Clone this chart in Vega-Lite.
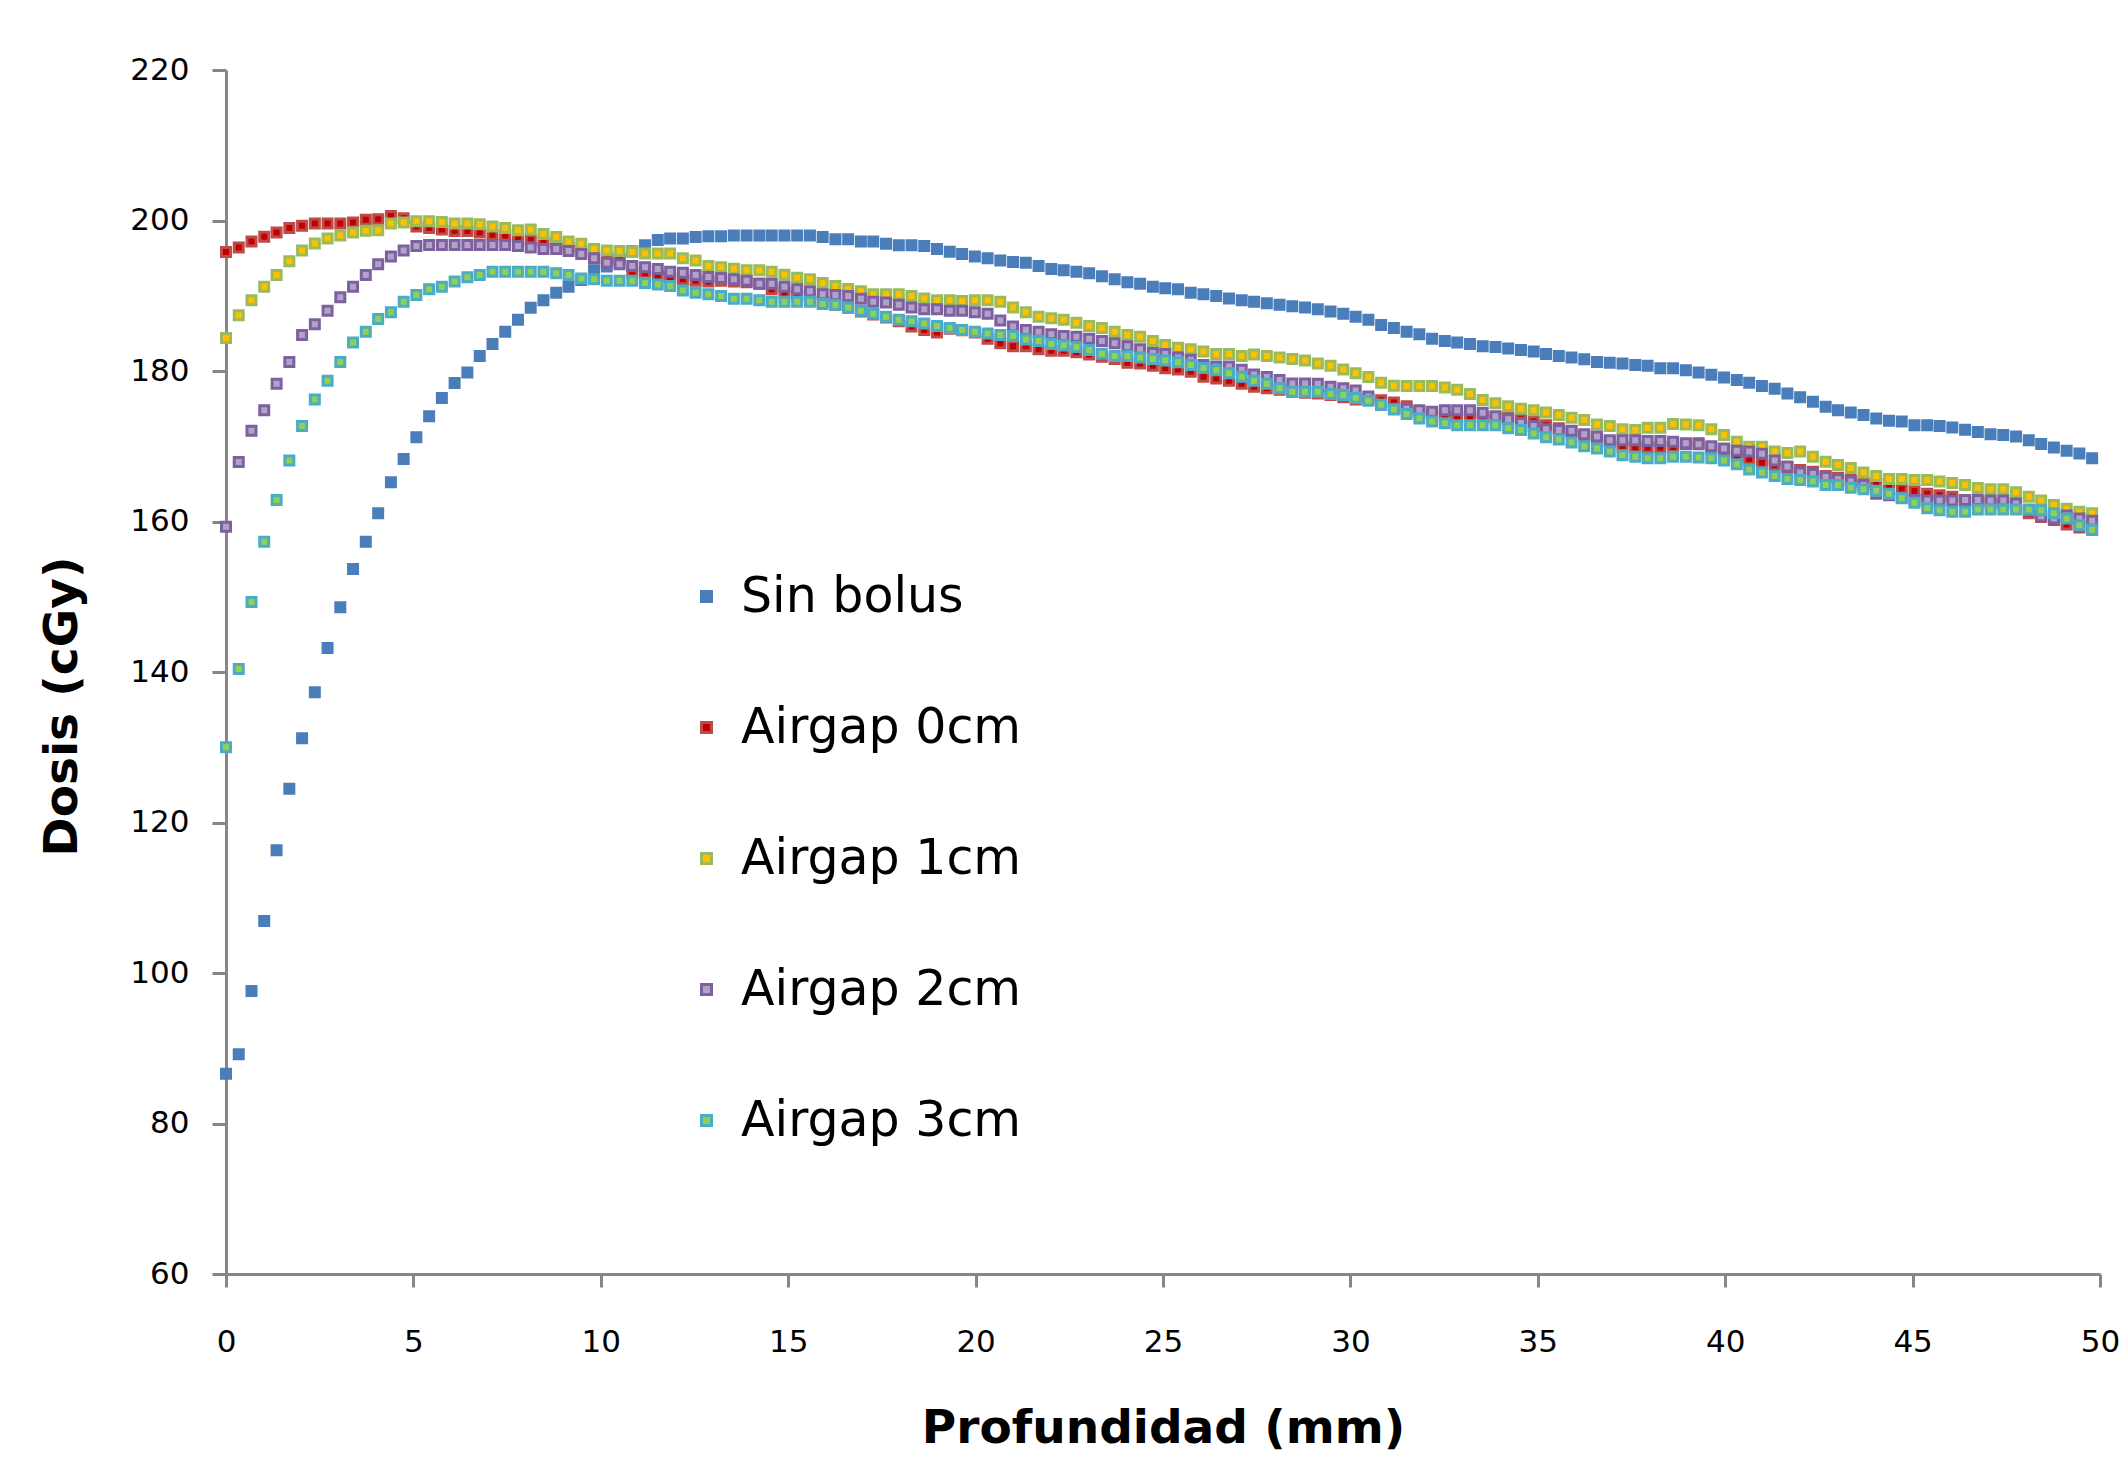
{
"$schema":"https://vega.github.io/schema/vega-lite/v6.json",
"width":1874,"height":1204,
"autosize":{"type":"none"},
"padding":{"left":226,"top":70,"right":20,"bottom":183},
"background":"white",
"config":{"view":{"stroke":null},"font":"DejaVu Sans"},
"data":{"values":[
{"s":"Sin bolus","x":0,"y":86.6},{"s":"Sin bolus","x":0.34,"y":89.2},{"s":"Sin bolus","x":0.68,"y":97.6},{"s":"Sin bolus","x":1.02,"y":106.9},{"s":"Sin bolus","x":1.35,"y":116.3},{"s":"Sin bolus","x":1.69,"y":124.5},{"s":"Sin bolus","x":2.03,"y":131.2},{"s":"Sin bolus","x":2.37,"y":137.3},{"s":"Sin bolus","x":2.71,"y":143.2},{"s":"Sin bolus","x":3.05,"y":148.6},
{"s":"Sin bolus","x":3.39,"y":153.7},{"s":"Sin bolus","x":3.73,"y":157.3},{"s":"Sin bolus","x":4.06,"y":161.1},{"s":"Sin bolus","x":4.4,"y":165.2},{"s":"Sin bolus","x":4.74,"y":168.3},{"s":"Sin bolus","x":5.08,"y":171.2},{"s":"Sin bolus","x":5.42,"y":174.0},{"s":"Sin bolus","x":5.76,"y":176.4},{"s":"Sin bolus","x":6.1,"y":178.4},{"s":"Sin bolus","x":6.44,"y":179.8},
{"s":"Sin bolus","x":6.77,"y":182.0},{"s":"Sin bolus","x":7.11,"y":183.6},{"s":"Sin bolus","x":7.45,"y":185.2},{"s":"Sin bolus","x":7.79,"y":186.8},{"s":"Sin bolus","x":8.13,"y":188.4},{"s":"Sin bolus","x":8.47,"y":189.4},{"s":"Sin bolus","x":8.81,"y":190.4},{"s":"Sin bolus","x":9.14,"y":191.2},{"s":"Sin bolus","x":9.48,"y":192.1},{"s":"Sin bolus","x":9.82,"y":193.4},
{"s":"Sin bolus","x":10.16,"y":193.9},{"s":"Sin bolus","x":10.5,"y":195.0},{"s":"Sin bolus","x":10.84,"y":195.9},{"s":"Sin bolus","x":11.18,"y":196.7},{"s":"Sin bolus","x":11.52,"y":197.4},{"s":"Sin bolus","x":11.85,"y":197.6},{"s":"Sin bolus","x":12.19,"y":197.6},{"s":"Sin bolus","x":12.53,"y":197.8},{"s":"Sin bolus","x":12.87,"y":197.9},{"s":"Sin bolus","x":13.21,"y":197.9},
{"s":"Sin bolus","x":13.55,"y":198.0},{"s":"Sin bolus","x":13.89,"y":198.0},{"s":"Sin bolus","x":14.23,"y":198.0},{"s":"Sin bolus","x":14.56,"y":198.0},{"s":"Sin bolus","x":14.9,"y":198.0},{"s":"Sin bolus","x":15.24,"y":198.0},{"s":"Sin bolus","x":15.58,"y":198.0},{"s":"Sin bolus","x":15.92,"y":197.8},{"s":"Sin bolus","x":16.26,"y":197.5},{"s":"Sin bolus","x":16.6,"y":197.5},
{"s":"Sin bolus","x":16.94,"y":197.2},{"s":"Sin bolus","x":17.27,"y":197.2},{"s":"Sin bolus","x":17.61,"y":196.9},{"s":"Sin bolus","x":17.95,"y":196.7},{"s":"Sin bolus","x":18.29,"y":196.7},{"s":"Sin bolus","x":18.63,"y":196.6},{"s":"Sin bolus","x":18.97,"y":196.2},{"s":"Sin bolus","x":19.31,"y":195.85},{"s":"Sin bolus","x":19.64,"y":195.55},{"s":"Sin bolus","x":19.98,"y":195.2},
{"s":"Sin bolus","x":20.32,"y":195.0},{"s":"Sin bolus","x":20.66,"y":194.7},{"s":"Sin bolus","x":21,"y":194.5},{"s":"Sin bolus","x":21.34,"y":194.4},{"s":"Sin bolus","x":21.68,"y":193.95},{"s":"Sin bolus","x":22.02,"y":193.55},{"s":"Sin bolus","x":22.35,"y":193.4},{"s":"Sin bolus","x":22.69,"y":193.2},{"s":"Sin bolus","x":23.03,"y":193.0},{"s":"Sin bolus","x":23.37,"y":192.6},
{"s":"Sin bolus","x":23.71,"y":192.2},{"s":"Sin bolus","x":24.05,"y":191.8},{"s":"Sin bolus","x":24.39,"y":191.6},{"s":"Sin bolus","x":24.73,"y":191.2},{"s":"Sin bolus","x":25.06,"y":191.0},{"s":"Sin bolus","x":25.4,"y":190.85},{"s":"Sin bolus","x":25.74,"y":190.4},{"s":"Sin bolus","x":26.08,"y":190.2},{"s":"Sin bolus","x":26.42,"y":189.96},{"s":"Sin bolus","x":26.76,"y":189.65},
{"s":"Sin bolus","x":27.1,"y":189.4},{"s":"Sin bolus","x":27.43,"y":189.2},{"s":"Sin bolus","x":27.77,"y":189.0},{"s":"Sin bolus","x":28.11,"y":188.8},{"s":"Sin bolus","x":28.45,"y":188.6},{"s":"Sin bolus","x":28.79,"y":188.45},{"s":"Sin bolus","x":29.13,"y":188.2},{"s":"Sin bolus","x":29.47,"y":187.9},{"s":"Sin bolus","x":29.81,"y":187.6},{"s":"Sin bolus","x":30.14,"y":187.2},
{"s":"Sin bolus","x":30.48,"y":186.8},{"s":"Sin bolus","x":30.82,"y":186.1},{"s":"Sin bolus","x":31.16,"y":185.7},{"s":"Sin bolus","x":31.5,"y":185.2},{"s":"Sin bolus","x":31.84,"y":184.9},{"s":"Sin bolus","x":32.18,"y":184.3},{"s":"Sin bolus","x":32.52,"y":184.0},{"s":"Sin bolus","x":32.85,"y":183.8},{"s":"Sin bolus","x":33.19,"y":183.6},{"s":"Sin bolus","x":33.53,"y":183.3},
{"s":"Sin bolus","x":33.87,"y":183.2},{"s":"Sin bolus","x":34.21,"y":183.0},{"s":"Sin bolus","x":34.55,"y":182.8},{"s":"Sin bolus","x":34.89,"y":182.6},{"s":"Sin bolus","x":35.22,"y":182.25},{"s":"Sin bolus","x":35.56,"y":182.0},{"s":"Sin bolus","x":35.9,"y":181.8},{"s":"Sin bolus","x":36.24,"y":181.55},{"s":"Sin bolus","x":36.58,"y":181.2},{"s":"Sin bolus","x":36.92,"y":181.1},
{"s":"Sin bolus","x":37.26,"y":181.0},{"s":"Sin bolus","x":37.6,"y":180.8},{"s":"Sin bolus","x":37.93,"y":180.7},{"s":"Sin bolus","x":38.27,"y":180.35},{"s":"Sin bolus","x":38.61,"y":180.35},{"s":"Sin bolus","x":38.95,"y":180.1},{"s":"Sin bolus","x":39.29,"y":179.8},{"s":"Sin bolus","x":39.63,"y":179.5},{"s":"Sin bolus","x":39.97,"y":179.15},{"s":"Sin bolus","x":40.31,"y":178.8},
{"s":"Sin bolus","x":40.64,"y":178.45},{"s":"Sin bolus","x":40.98,"y":178.0},{"s":"Sin bolus","x":41.32,"y":177.65},{"s":"Sin bolus","x":41.66,"y":177.0},{"s":"Sin bolus","x":42,"y":176.5},{"s":"Sin bolus","x":42.34,"y":175.9},{"s":"Sin bolus","x":42.68,"y":175.25},{"s":"Sin bolus","x":43.01,"y":174.8},{"s":"Sin bolus","x":43.35,"y":174.5},{"s":"Sin bolus","x":43.69,"y":174.15},
{"s":"Sin bolus","x":44.03,"y":173.7},{"s":"Sin bolus","x":44.37,"y":173.4},{"s":"Sin bolus","x":44.71,"y":173.3},{"s":"Sin bolus","x":45.05,"y":172.8},{"s":"Sin bolus","x":45.39,"y":172.8},{"s":"Sin bolus","x":45.72,"y":172.7},{"s":"Sin bolus","x":46.06,"y":172.5},{"s":"Sin bolus","x":46.4,"y":172.2},{"s":"Sin bolus","x":46.74,"y":171.9},{"s":"Sin bolus","x":47.08,"y":171.6},
{"s":"Sin bolus","x":47.42,"y":171.5},{"s":"Sin bolus","x":47.76,"y":171.3},{"s":"Sin bolus","x":48.1,"y":170.8},{"s":"Sin bolus","x":48.43,"y":170.3},{"s":"Sin bolus","x":48.77,"y":169.85},{"s":"Sin bolus","x":49.11,"y":169.4},{"s":"Sin bolus","x":49.45,"y":169.05},{"s":"Sin bolus","x":49.79,"y":168.4},
{"s":"Airgap 0cm","x":0,"y":195.8},{"s":"Airgap 0cm","x":0.34,"y":196.4},{"s":"Airgap 0cm","x":0.68,"y":197.2},{"s":"Airgap 0cm","x":1.02,"y":197.85},{"s":"Airgap 0cm","x":1.35,"y":198.4},{"s":"Airgap 0cm","x":1.69,"y":199.0},{"s":"Airgap 0cm","x":2.03,"y":199.3},{"s":"Airgap 0cm","x":2.37,"y":199.6},{"s":"Airgap 0cm","x":2.71,"y":199.6},{"s":"Airgap 0cm","x":3.05,"y":199.6},
{"s":"Airgap 0cm","x":3.39,"y":199.75},{"s":"Airgap 0cm","x":3.73,"y":200.1},{"s":"Airgap 0cm","x":4.06,"y":200.15},{"s":"Airgap 0cm","x":4.4,"y":200.6},{"s":"Airgap 0cm","x":4.74,"y":200.3},{"s":"Airgap 0cm","x":5.08,"y":199.2},{"s":"Airgap 0cm","x":5.42,"y":199.0},{"s":"Airgap 0cm","x":5.76,"y":198.8},{"s":"Airgap 0cm","x":6.1,"y":198.6},{"s":"Airgap 0cm","x":6.44,"y":198.6},
{"s":"Airgap 0cm","x":6.77,"y":198.4},{"s":"Airgap 0cm","x":7.11,"y":198.1},{"s":"Airgap 0cm","x":7.45,"y":198.0},{"s":"Airgap 0cm","x":7.79,"y":197.8},{"s":"Airgap 0cm","x":8.13,"y":197.4},{"s":"Airgap 0cm","x":8.47,"y":197.1},{"s":"Airgap 0cm","x":8.81,"y":196.9},{"s":"Airgap 0cm","x":9.14,"y":196.4},{"s":"Airgap 0cm","x":9.48,"y":195.9},{"s":"Airgap 0cm","x":9.82,"y":195.4},
{"s":"Airgap 0cm","x":10.16,"y":195.0},{"s":"Airgap 0cm","x":10.5,"y":194.7},{"s":"Airgap 0cm","x":10.84,"y":193.1},{"s":"Airgap 0cm","x":11.18,"y":193.0},{"s":"Airgap 0cm","x":11.52,"y":192.6},{"s":"Airgap 0cm","x":11.85,"y":192.4},{"s":"Airgap 0cm","x":12.19,"y":192.2},{"s":"Airgap 0cm","x":12.53,"y":192.0},{"s":"Airgap 0cm","x":12.87,"y":191.9},{"s":"Airgap 0cm","x":13.21,"y":192.0},
{"s":"Airgap 0cm","x":13.55,"y":191.9},{"s":"Airgap 0cm","x":13.89,"y":191.8},{"s":"Airgap 0cm","x":14.23,"y":191.6},{"s":"Airgap 0cm","x":14.56,"y":190.85},{"s":"Airgap 0cm","x":14.9,"y":190.4},{"s":"Airgap 0cm","x":15.24,"y":190.0},{"s":"Airgap 0cm","x":15.58,"y":189.6},{"s":"Airgap 0cm","x":15.92,"y":189.2},{"s":"Airgap 0cm","x":16.26,"y":188.8},{"s":"Airgap 0cm","x":16.6,"y":188.4},
{"s":"Airgap 0cm","x":16.94,"y":187.9},{"s":"Airgap 0cm","x":17.27,"y":187.5},{"s":"Airgap 0cm","x":17.61,"y":187.1},{"s":"Airgap 0cm","x":17.95,"y":186.6},{"s":"Airgap 0cm","x":18.29,"y":185.9},{"s":"Airgap 0cm","x":18.63,"y":185.45},{"s":"Airgap 0cm","x":18.97,"y":185.1},{"s":"Airgap 0cm","x":19.31,"y":185.6},{"s":"Airgap 0cm","x":19.64,"y":185.4},{"s":"Airgap 0cm","x":19.98,"y":185.1},
{"s":"Airgap 0cm","x":20.32,"y":184.3},{"s":"Airgap 0cm","x":20.66,"y":183.7},{"s":"Airgap 0cm","x":21,"y":183.3},{"s":"Airgap 0cm","x":21.34,"y":183.3},{"s":"Airgap 0cm","x":21.68,"y":182.9},{"s":"Airgap 0cm","x":22.02,"y":182.7},{"s":"Airgap 0cm","x":22.35,"y":182.7},{"s":"Airgap 0cm","x":22.69,"y":182.5},{"s":"Airgap 0cm","x":23.03,"y":182.2},{"s":"Airgap 0cm","x":23.37,"y":181.9},
{"s":"Airgap 0cm","x":23.71,"y":181.6},{"s":"Airgap 0cm","x":24.05,"y":181.1},{"s":"Airgap 0cm","x":24.39,"y":181.0},{"s":"Airgap 0cm","x":24.73,"y":180.7},{"s":"Airgap 0cm","x":25.06,"y":180.35},{"s":"Airgap 0cm","x":25.4,"y":180.2},{"s":"Airgap 0cm","x":25.74,"y":179.9},{"s":"Airgap 0cm","x":26.08,"y":179.25},{"s":"Airgap 0cm","x":26.42,"y":179.0},{"s":"Airgap 0cm","x":26.76,"y":178.7},
{"s":"Airgap 0cm","x":27.1,"y":178.3},{"s":"Airgap 0cm","x":27.43,"y":177.9},{"s":"Airgap 0cm","x":27.77,"y":177.7},{"s":"Airgap 0cm","x":28.11,"y":177.5},{"s":"Airgap 0cm","x":28.45,"y":177.25},{"s":"Airgap 0cm","x":28.79,"y":177.1},{"s":"Airgap 0cm","x":29.13,"y":177.0},{"s":"Airgap 0cm","x":29.47,"y":176.8},{"s":"Airgap 0cm","x":29.81,"y":176.5},{"s":"Airgap 0cm","x":30.14,"y":176.2},
{"s":"Airgap 0cm","x":30.48,"y":176.2},{"s":"Airgap 0cm","x":30.82,"y":176.1},{"s":"Airgap 0cm","x":31.16,"y":175.8},{"s":"Airgap 0cm","x":31.5,"y":175.3},{"s":"Airgap 0cm","x":31.84,"y":174.6},{"s":"Airgap 0cm","x":32.18,"y":174.15},{"s":"Airgap 0cm","x":32.52,"y":173.85},{"s":"Airgap 0cm","x":32.85,"y":173.85},{"s":"Airgap 0cm","x":33.19,"y":173.85},{"s":"Airgap 0cm","x":33.53,"y":173.85},
{"s":"Airgap 0cm","x":33.87,"y":173.85},{"s":"Airgap 0cm","x":34.21,"y":173.95},{"s":"Airgap 0cm","x":34.55,"y":173.6},{"s":"Airgap 0cm","x":34.89,"y":173.3},{"s":"Airgap 0cm","x":35.22,"y":172.8},{"s":"Airgap 0cm","x":35.56,"y":172.4},{"s":"Airgap 0cm","x":35.9,"y":171.9},{"s":"Airgap 0cm","x":36.24,"y":171.4},{"s":"Airgap 0cm","x":36.58,"y":171.0},{"s":"Airgap 0cm","x":36.92,"y":170.6},
{"s":"Airgap 0cm","x":37.26,"y":169.95},{"s":"Airgap 0cm","x":37.6,"y":169.85},{"s":"Airgap 0cm","x":37.93,"y":169.85},{"s":"Airgap 0cm","x":38.27,"y":169.85},{"s":"Airgap 0cm","x":38.61,"y":169.9},{"s":"Airgap 0cm","x":38.95,"y":170.3},{"s":"Airgap 0cm","x":39.29,"y":170.4},{"s":"Airgap 0cm","x":39.63,"y":169.7},{"s":"Airgap 0cm","x":39.97,"y":169.05},{"s":"Airgap 0cm","x":40.31,"y":168.7},
{"s":"Airgap 0cm","x":40.64,"y":168.3},{"s":"Airgap 0cm","x":40.98,"y":167.8},{"s":"Airgap 0cm","x":41.32,"y":167.5},{"s":"Airgap 0cm","x":41.66,"y":167.2},{"s":"Airgap 0cm","x":42,"y":166.85},{"s":"Airgap 0cm","x":42.34,"y":166.6},{"s":"Airgap 0cm","x":42.68,"y":166.05},{"s":"Airgap 0cm","x":43.01,"y":165.8},{"s":"Airgap 0cm","x":43.35,"y":165.5},{"s":"Airgap 0cm","x":43.69,"y":165.2},
{"s":"Airgap 0cm","x":44.03,"y":165.0},{"s":"Airgap 0cm","x":44.37,"y":164.6},{"s":"Airgap 0cm","x":44.71,"y":164.3},{"s":"Airgap 0cm","x":45.05,"y":164.05},{"s":"Airgap 0cm","x":45.39,"y":163.7},{"s":"Airgap 0cm","x":45.72,"y":163.5},{"s":"Airgap 0cm","x":46.06,"y":163.3},{"s":"Airgap 0cm","x":46.4,"y":162.85},{"s":"Airgap 0cm","x":46.74,"y":162.6},{"s":"Airgap 0cm","x":47.08,"y":162.5},
{"s":"Airgap 0cm","x":47.42,"y":162.4},{"s":"Airgap 0cm","x":47.76,"y":162.2},{"s":"Airgap 0cm","x":48.1,"y":161.1},{"s":"Airgap 0cm","x":48.43,"y":160.6},{"s":"Airgap 0cm","x":48.77,"y":160.2},{"s":"Airgap 0cm","x":49.11,"y":159.6},{"s":"Airgap 0cm","x":49.45,"y":159.2},{"s":"Airgap 0cm","x":49.79,"y":158.9},
{"s":"Airgap 1cm","x":0,"y":184.4},{"s":"Airgap 1cm","x":0.34,"y":187.4},{"s":"Airgap 1cm","x":0.68,"y":189.4},{"s":"Airgap 1cm","x":1.02,"y":191.2},{"s":"Airgap 1cm","x":1.35,"y":192.75},{"s":"Airgap 1cm","x":1.69,"y":194.6},{"s":"Airgap 1cm","x":2.03,"y":196.0},{"s":"Airgap 1cm","x":2.37,"y":196.96},{"s":"Airgap 1cm","x":2.71,"y":197.6},{"s":"Airgap 1cm","x":3.05,"y":198.0},
{"s":"Airgap 1cm","x":3.39,"y":198.4},{"s":"Airgap 1cm","x":3.73,"y":198.65},{"s":"Airgap 1cm","x":4.06,"y":198.7},{"s":"Airgap 1cm","x":4.4,"y":199.6},{"s":"Airgap 1cm","x":4.74,"y":199.75},{"s":"Airgap 1cm","x":5.08,"y":199.9},{"s":"Airgap 1cm","x":5.42,"y":199.9},{"s":"Airgap 1cm","x":5.76,"y":199.8},{"s":"Airgap 1cm","x":6.1,"y":199.6},{"s":"Airgap 1cm","x":6.44,"y":199.6},
{"s":"Airgap 1cm","x":6.77,"y":199.5},{"s":"Airgap 1cm","x":7.11,"y":199.2},{"s":"Airgap 1cm","x":7.45,"y":199.0},{"s":"Airgap 1cm","x":7.79,"y":198.7},{"s":"Airgap 1cm","x":8.13,"y":198.8},{"s":"Airgap 1cm","x":8.47,"y":198.2},{"s":"Airgap 1cm","x":8.81,"y":197.8},{"s":"Airgap 1cm","x":9.14,"y":197.2},{"s":"Airgap 1cm","x":9.48,"y":196.9},{"s":"Airgap 1cm","x":9.82,"y":196.2},
{"s":"Airgap 1cm","x":10.16,"y":196.0},{"s":"Airgap 1cm","x":10.5,"y":195.95},{"s":"Airgap 1cm","x":10.84,"y":195.8},{"s":"Airgap 1cm","x":11.18,"y":195.6},{"s":"Airgap 1cm","x":11.52,"y":195.6},{"s":"Airgap 1cm","x":11.85,"y":195.6},{"s":"Airgap 1cm","x":12.19,"y":195.0},{"s":"Airgap 1cm","x":12.53,"y":194.7},{"s":"Airgap 1cm","x":12.87,"y":193.95},{"s":"Airgap 1cm","x":13.21,"y":193.8},
{"s":"Airgap 1cm","x":13.55,"y":193.6},{"s":"Airgap 1cm","x":13.89,"y":193.4},{"s":"Airgap 1cm","x":14.23,"y":193.4},{"s":"Airgap 1cm","x":14.56,"y":193.2},{"s":"Airgap 1cm","x":14.9,"y":192.8},{"s":"Airgap 1cm","x":15.24,"y":192.4},{"s":"Airgap 1cm","x":15.58,"y":192.2},{"s":"Airgap 1cm","x":15.92,"y":191.7},{"s":"Airgap 1cm","x":16.26,"y":191.3},{"s":"Airgap 1cm","x":16.6,"y":190.9},
{"s":"Airgap 1cm","x":16.94,"y":190.6},{"s":"Airgap 1cm","x":17.27,"y":190.2},{"s":"Airgap 1cm","x":17.61,"y":190.2},{"s":"Airgap 1cm","x":17.95,"y":190.2},{"s":"Airgap 1cm","x":18.29,"y":189.96},{"s":"Airgap 1cm","x":18.63,"y":189.65},{"s":"Airgap 1cm","x":18.97,"y":189.4},{"s":"Airgap 1cm","x":19.31,"y":189.4},{"s":"Airgap 1cm","x":19.64,"y":189.3},{"s":"Airgap 1cm","x":19.98,"y":189.4},
{"s":"Airgap 1cm","x":20.32,"y":189.4},{"s":"Airgap 1cm","x":20.66,"y":189.2},{"s":"Airgap 1cm","x":21,"y":188.45},{"s":"Airgap 1cm","x":21.34,"y":187.8},{"s":"Airgap 1cm","x":21.68,"y":187.2},{"s":"Airgap 1cm","x":22.02,"y":187.0},{"s":"Airgap 1cm","x":22.35,"y":186.8},{"s":"Airgap 1cm","x":22.69,"y":186.4},{"s":"Airgap 1cm","x":23.03,"y":185.98},{"s":"Airgap 1cm","x":23.37,"y":185.7},
{"s":"Airgap 1cm","x":23.71,"y":185.2},{"s":"Airgap 1cm","x":24.05,"y":184.8},{"s":"Airgap 1cm","x":24.39,"y":184.56},{"s":"Airgap 1cm","x":24.73,"y":184.0},{"s":"Airgap 1cm","x":25.06,"y":183.45},{"s":"Airgap 1cm","x":25.4,"y":183.1},{"s":"Airgap 1cm","x":25.74,"y":182.9},{"s":"Airgap 1cm","x":26.08,"y":182.6},{"s":"Airgap 1cm","x":26.42,"y":182.25},{"s":"Airgap 1cm","x":26.76,"y":182.25},
{"s":"Airgap 1cm","x":27.1,"y":182.0},{"s":"Airgap 1cm","x":27.43,"y":182.2},{"s":"Airgap 1cm","x":27.77,"y":182.0},{"s":"Airgap 1cm","x":28.11,"y":181.8},{"s":"Airgap 1cm","x":28.45,"y":181.6},{"s":"Airgap 1cm","x":28.79,"y":181.4},{"s":"Airgap 1cm","x":29.13,"y":181.0},{"s":"Airgap 1cm","x":29.47,"y":180.7},{"s":"Airgap 1cm","x":29.81,"y":180.2},{"s":"Airgap 1cm","x":30.14,"y":179.7},
{"s":"Airgap 1cm","x":30.48,"y":179.2},{"s":"Airgap 1cm","x":30.82,"y":178.45},{"s":"Airgap 1cm","x":31.16,"y":178.05},{"s":"Airgap 1cm","x":31.5,"y":178.0},{"s":"Airgap 1cm","x":31.84,"y":178.0},{"s":"Airgap 1cm","x":32.18,"y":178.0},{"s":"Airgap 1cm","x":32.52,"y":177.8},{"s":"Airgap 1cm","x":32.85,"y":177.5},{"s":"Airgap 1cm","x":33.19,"y":176.95},{"s":"Airgap 1cm","x":33.53,"y":176.15},
{"s":"Airgap 1cm","x":33.87,"y":175.7},{"s":"Airgap 1cm","x":34.21,"y":175.3},{"s":"Airgap 1cm","x":34.55,"y":175.0},{"s":"Airgap 1cm","x":34.89,"y":174.8},{"s":"Airgap 1cm","x":35.22,"y":174.5},{"s":"Airgap 1cm","x":35.56,"y":174.15},{"s":"Airgap 1cm","x":35.9,"y":173.8},{"s":"Airgap 1cm","x":36.24,"y":173.5},{"s":"Airgap 1cm","x":36.58,"y":172.9},{"s":"Airgap 1cm","x":36.92,"y":172.7},
{"s":"Airgap 1cm","x":37.26,"y":172.25},{"s":"Airgap 1cm","x":37.6,"y":172.15},{"s":"Airgap 1cm","x":37.93,"y":172.45},{"s":"Airgap 1cm","x":38.27,"y":172.45},{"s":"Airgap 1cm","x":38.61,"y":172.95},{"s":"Airgap 1cm","x":38.95,"y":172.9},{"s":"Airgap 1cm","x":39.29,"y":172.8},{"s":"Airgap 1cm","x":39.63,"y":172.25},{"s":"Airgap 1cm","x":39.97,"y":171.5},{"s":"Airgap 1cm","x":40.31,"y":170.6},
{"s":"Airgap 1cm","x":40.64,"y":169.95},{"s":"Airgap 1cm","x":40.98,"y":169.94},{"s":"Airgap 1cm","x":41.32,"y":169.3},{"s":"Airgap 1cm","x":41.66,"y":169.1},{"s":"Airgap 1cm","x":42,"y":169.3},{"s":"Airgap 1cm","x":42.34,"y":168.6},{"s":"Airgap 1cm","x":42.68,"y":167.95},{"s":"Airgap 1cm","x":43.01,"y":167.5},{"s":"Airgap 1cm","x":43.35,"y":167.1},{"s":"Airgap 1cm","x":43.69,"y":166.5},
{"s":"Airgap 1cm","x":44.03,"y":166.05},{"s":"Airgap 1cm","x":44.37,"y":165.65},{"s":"Airgap 1cm","x":44.71,"y":165.65},{"s":"Airgap 1cm","x":45.05,"y":165.5},{"s":"Airgap 1cm","x":45.39,"y":165.5},{"s":"Airgap 1cm","x":45.72,"y":165.3},{"s":"Airgap 1cm","x":46.06,"y":165.1},{"s":"Airgap 1cm","x":46.4,"y":164.85},{"s":"Airgap 1cm","x":46.74,"y":164.45},{"s":"Airgap 1cm","x":47.08,"y":164.3},
{"s":"Airgap 1cm","x":47.42,"y":164.3},{"s":"Airgap 1cm","x":47.76,"y":163.9},{"s":"Airgap 1cm","x":48.1,"y":163.3},{"s":"Airgap 1cm","x":48.43,"y":162.8},{"s":"Airgap 1cm","x":48.77,"y":162.2},{"s":"Airgap 1cm","x":49.11,"y":161.7},{"s":"Airgap 1cm","x":49.45,"y":161.3},{"s":"Airgap 1cm","x":49.79,"y":161.1},
{"s":"Airgap 2cm","x":0,"y":159.3},{"s":"Airgap 2cm","x":0.34,"y":167.9},{"s":"Airgap 2cm","x":0.68,"y":172.07},{"s":"Airgap 2cm","x":1.02,"y":174.8},{"s":"Airgap 2cm","x":1.35,"y":178.3},{"s":"Airgap 2cm","x":1.69,"y":181.2},{"s":"Airgap 2cm","x":2.03,"y":184.8},{"s":"Airgap 2cm","x":2.37,"y":186.2},{"s":"Airgap 2cm","x":2.71,"y":188.0},{"s":"Airgap 2cm","x":3.05,"y":189.8},
{"s":"Airgap 2cm","x":3.39,"y":191.2},{"s":"Airgap 2cm","x":3.73,"y":192.75},{"s":"Airgap 2cm","x":4.06,"y":194.2},{"s":"Airgap 2cm","x":4.4,"y":195.2},{"s":"Airgap 2cm","x":4.74,"y":196.0},{"s":"Airgap 2cm","x":5.08,"y":196.6},{"s":"Airgap 2cm","x":5.42,"y":196.74},{"s":"Airgap 2cm","x":5.76,"y":196.74},{"s":"Airgap 2cm","x":6.1,"y":196.74},{"s":"Airgap 2cm","x":6.44,"y":196.74},
{"s":"Airgap 2cm","x":6.77,"y":196.74},{"s":"Airgap 2cm","x":7.11,"y":196.74},{"s":"Airgap 2cm","x":7.45,"y":196.74},{"s":"Airgap 2cm","x":7.79,"y":196.6},{"s":"Airgap 2cm","x":8.13,"y":196.4},{"s":"Airgap 2cm","x":8.47,"y":196.2},{"s":"Airgap 2cm","x":8.81,"y":196.2},{"s":"Airgap 2cm","x":9.14,"y":195.95},{"s":"Airgap 2cm","x":9.48,"y":195.55},{"s":"Airgap 2cm","x":9.82,"y":195.0},
{"s":"Airgap 2cm","x":10.16,"y":194.4},{"s":"Airgap 2cm","x":10.5,"y":194.2},{"s":"Airgap 2cm","x":10.84,"y":193.95},{"s":"Airgap 2cm","x":11.18,"y":193.8},{"s":"Airgap 2cm","x":11.52,"y":193.55},{"s":"Airgap 2cm","x":11.85,"y":193.2},{"s":"Airgap 2cm","x":12.19,"y":193.05},{"s":"Airgap 2cm","x":12.53,"y":192.75},{"s":"Airgap 2cm","x":12.87,"y":192.5},{"s":"Airgap 2cm","x":13.21,"y":192.35},
{"s":"Airgap 2cm","x":13.55,"y":192.2},{"s":"Airgap 2cm","x":13.89,"y":192.0},{"s":"Airgap 2cm","x":14.23,"y":191.6},{"s":"Airgap 2cm","x":14.56,"y":191.6},{"s":"Airgap 2cm","x":14.9,"y":191.2},{"s":"Airgap 2cm","x":15.24,"y":190.85},{"s":"Airgap 2cm","x":15.58,"y":190.6},{"s":"Airgap 2cm","x":15.92,"y":190.2},{"s":"Airgap 2cm","x":16.26,"y":190.1},{"s":"Airgap 2cm","x":16.6,"y":189.96},
{"s":"Airgap 2cm","x":16.94,"y":189.6},{"s":"Airgap 2cm","x":17.27,"y":189.2},{"s":"Airgap 2cm","x":17.61,"y":189.1},{"s":"Airgap 2cm","x":17.95,"y":188.8},{"s":"Airgap 2cm","x":18.29,"y":188.45},{"s":"Airgap 2cm","x":18.63,"y":188.2},{"s":"Airgap 2cm","x":18.97,"y":188.2},{"s":"Airgap 2cm","x":19.31,"y":188.0},{"s":"Airgap 2cm","x":19.64,"y":188.0},{"s":"Airgap 2cm","x":19.98,"y":187.8},
{"s":"Airgap 2cm","x":20.32,"y":187.6},{"s":"Airgap 2cm","x":20.66,"y":186.7},{"s":"Airgap 2cm","x":21,"y":185.9},{"s":"Airgap 2cm","x":21.34,"y":185.45},{"s":"Airgap 2cm","x":21.68,"y":185.2},{"s":"Airgap 2cm","x":22.02,"y":184.9},{"s":"Airgap 2cm","x":22.35,"y":184.65},{"s":"Airgap 2cm","x":22.69,"y":184.56},{"s":"Airgap 2cm","x":23.03,"y":184.3},{"s":"Airgap 2cm","x":23.37,"y":184.0},
{"s":"Airgap 2cm","x":23.71,"y":183.7},{"s":"Airgap 2cm","x":24.05,"y":183.3},{"s":"Airgap 2cm","x":24.39,"y":182.9},{"s":"Airgap 2cm","x":24.73,"y":182.4},{"s":"Airgap 2cm","x":25.06,"y":182.25},{"s":"Airgap 2cm","x":25.4,"y":181.8},{"s":"Airgap 2cm","x":25.74,"y":181.5},{"s":"Airgap 2cm","x":26.08,"y":180.8},{"s":"Airgap 2cm","x":26.42,"y":180.6},{"s":"Airgap 2cm","x":26.76,"y":180.6},
{"s":"Airgap 2cm","x":27.1,"y":180.15},{"s":"Airgap 2cm","x":27.43,"y":179.55},{"s":"Airgap 2cm","x":27.77,"y":179.2},{"s":"Airgap 2cm","x":28.11,"y":178.8},{"s":"Airgap 2cm","x":28.45,"y":178.35},{"s":"Airgap 2cm","x":28.79,"y":178.35},{"s":"Airgap 2cm","x":29.13,"y":178.3},{"s":"Airgap 2cm","x":29.47,"y":177.9},{"s":"Airgap 2cm","x":29.81,"y":177.7},{"s":"Airgap 2cm","x":30.14,"y":177.4},
{"s":"Airgap 2cm","x":30.48,"y":176.6},{"s":"Airgap 2cm","x":30.82,"y":175.5},{"s":"Airgap 2cm","x":31.16,"y":175.0},{"s":"Airgap 2cm","x":31.5,"y":175.0},{"s":"Airgap 2cm","x":31.84,"y":174.8},{"s":"Airgap 2cm","x":32.18,"y":174.6},{"s":"Airgap 2cm","x":32.52,"y":174.8},{"s":"Airgap 2cm","x":32.85,"y":174.8},{"s":"Airgap 2cm","x":33.19,"y":174.8},{"s":"Airgap 2cm","x":33.53,"y":174.45},
{"s":"Airgap 2cm","x":33.87,"y":174.0},{"s":"Airgap 2cm","x":34.21,"y":173.6},{"s":"Airgap 2cm","x":34.55,"y":173.1},{"s":"Airgap 2cm","x":34.89,"y":172.7},{"s":"Airgap 2cm","x":35.22,"y":172.25},{"s":"Airgap 2cm","x":35.56,"y":172.15},{"s":"Airgap 2cm","x":35.9,"y":172.05},{"s":"Airgap 2cm","x":36.24,"y":171.6},{"s":"Airgap 2cm","x":36.58,"y":171.3},{"s":"Airgap 2cm","x":36.92,"y":170.8},
{"s":"Airgap 2cm","x":37.26,"y":170.8},{"s":"Airgap 2cm","x":37.6,"y":170.8},{"s":"Airgap 2cm","x":37.93,"y":170.7},{"s":"Airgap 2cm","x":38.27,"y":170.7},{"s":"Airgap 2cm","x":38.61,"y":170.6},{"s":"Airgap 2cm","x":38.95,"y":170.4},{"s":"Airgap 2cm","x":39.29,"y":170.25},{"s":"Airgap 2cm","x":39.63,"y":170.0},{"s":"Airgap 2cm","x":39.97,"y":169.7},{"s":"Airgap 2cm","x":40.31,"y":169.4},
{"s":"Airgap 2cm","x":40.64,"y":169.3},{"s":"Airgap 2cm","x":40.98,"y":169.0},{"s":"Airgap 2cm","x":41.32,"y":168.1},{"s":"Airgap 2cm","x":41.66,"y":167.3},{"s":"Airgap 2cm","x":42,"y":166.5},{"s":"Airgap 2cm","x":42.34,"y":166.3},{"s":"Airgap 2cm","x":42.68,"y":165.9},{"s":"Airgap 2cm","x":43.01,"y":165.6},{"s":"Airgap 2cm","x":43.35,"y":165.3},{"s":"Airgap 2cm","x":43.69,"y":164.85},
{"s":"Airgap 2cm","x":44.03,"y":163.7},{"s":"Airgap 2cm","x":44.37,"y":163.5},{"s":"Airgap 2cm","x":44.71,"y":163.2},{"s":"Airgap 2cm","x":45.05,"y":162.85},{"s":"Airgap 2cm","x":45.39,"y":162.8},{"s":"Airgap 2cm","x":45.72,"y":162.8},{"s":"Airgap 2cm","x":46.06,"y":162.8},{"s":"Airgap 2cm","x":46.4,"y":162.85},{"s":"Airgap 2cm","x":46.74,"y":162.85},{"s":"Airgap 2cm","x":47.08,"y":162.8},
{"s":"Airgap 2cm","x":47.42,"y":162.8},{"s":"Airgap 2cm","x":47.76,"y":162.4},{"s":"Airgap 2cm","x":48.1,"y":161.5},{"s":"Airgap 2cm","x":48.43,"y":160.7},{"s":"Airgap 2cm","x":48.77,"y":160.4},{"s":"Airgap 2cm","x":49.11,"y":160.8},{"s":"Airgap 2cm","x":49.45,"y":160.4},{"s":"Airgap 2cm","x":49.79,"y":160.1},
{"s":"Airgap 3cm","x":0,"y":130.0},{"s":"Airgap 3cm","x":0.34,"y":140.4},{"s":"Airgap 3cm","x":0.68,"y":149.3},{"s":"Airgap 3cm","x":1.02,"y":157.3},{"s":"Airgap 3cm","x":1.35,"y":162.85},{"s":"Airgap 3cm","x":1.69,"y":168.1},{"s":"Airgap 3cm","x":2.03,"y":172.7},{"s":"Airgap 3cm","x":2.37,"y":176.2},{"s":"Airgap 3cm","x":2.71,"y":178.7},{"s":"Airgap 3cm","x":3.05,"y":181.2},
{"s":"Airgap 3cm","x":3.39,"y":183.8},{"s":"Airgap 3cm","x":3.73,"y":185.2},{"s":"Airgap 3cm","x":4.06,"y":186.9},{"s":"Airgap 3cm","x":4.4,"y":187.8},{"s":"Airgap 3cm","x":4.74,"y":189.2},{"s":"Airgap 3cm","x":5.08,"y":190.1},{"s":"Airgap 3cm","x":5.42,"y":190.85},{"s":"Airgap 3cm","x":5.76,"y":191.2},{"s":"Airgap 3cm","x":6.1,"y":191.9},{"s":"Airgap 3cm","x":6.44,"y":192.45},
{"s":"Airgap 3cm","x":6.77,"y":192.75},{"s":"Airgap 3cm","x":7.11,"y":193.2},{"s":"Airgap 3cm","x":7.45,"y":193.2},{"s":"Airgap 3cm","x":7.79,"y":193.2},{"s":"Airgap 3cm","x":8.13,"y":193.2},{"s":"Airgap 3cm","x":8.47,"y":193.2},{"s":"Airgap 3cm","x":8.81,"y":193.0},{"s":"Airgap 3cm","x":9.14,"y":192.75},{"s":"Airgap 3cm","x":9.48,"y":192.3},{"s":"Airgap 3cm","x":9.82,"y":192.2},
{"s":"Airgap 3cm","x":10.16,"y":192.0},{"s":"Airgap 3cm","x":10.5,"y":192.0},{"s":"Airgap 3cm","x":10.84,"y":192.0},{"s":"Airgap 3cm","x":11.18,"y":191.7},{"s":"Airgap 3cm","x":11.52,"y":191.5},{"s":"Airgap 3cm","x":11.85,"y":191.3},{"s":"Airgap 3cm","x":12.19,"y":190.7},{"s":"Airgap 3cm","x":12.53,"y":190.4},{"s":"Airgap 3cm","x":12.87,"y":190.2},{"s":"Airgap 3cm","x":13.21,"y":189.96},
{"s":"Airgap 3cm","x":13.55,"y":189.6},{"s":"Airgap 3cm","x":13.89,"y":189.6},{"s":"Airgap 3cm","x":14.23,"y":189.4},{"s":"Airgap 3cm","x":14.56,"y":189.2},{"s":"Airgap 3cm","x":14.9,"y":189.2},{"s":"Airgap 3cm","x":15.24,"y":189.2},{"s":"Airgap 3cm","x":15.58,"y":189.2},{"s":"Airgap 3cm","x":15.92,"y":188.9},{"s":"Airgap 3cm","x":16.26,"y":188.8},{"s":"Airgap 3cm","x":16.6,"y":188.45},
{"s":"Airgap 3cm","x":16.94,"y":188.0},{"s":"Airgap 3cm","x":17.27,"y":187.6},{"s":"Airgap 3cm","x":17.61,"y":187.2},{"s":"Airgap 3cm","x":17.95,"y":186.8},{"s":"Airgap 3cm","x":18.29,"y":186.6},{"s":"Airgap 3cm","x":18.63,"y":186.3},{"s":"Airgap 3cm","x":18.97,"y":185.98},{"s":"Airgap 3cm","x":19.31,"y":185.7},{"s":"Airgap 3cm","x":19.64,"y":185.45},{"s":"Airgap 3cm","x":19.98,"y":185.2},
{"s":"Airgap 3cm","x":20.32,"y":185.0},{"s":"Airgap 3cm","x":20.66,"y":184.8},{"s":"Airgap 3cm","x":21,"y":184.65},{"s":"Airgap 3cm","x":21.34,"y":184.2},{"s":"Airgap 3cm","x":21.68,"y":184.0},{"s":"Airgap 3cm","x":22.02,"y":183.6},{"s":"Airgap 3cm","x":22.35,"y":183.4},{"s":"Airgap 3cm","x":22.69,"y":183.2},{"s":"Airgap 3cm","x":23.03,"y":182.8},{"s":"Airgap 3cm","x":23.37,"y":182.3},
{"s":"Airgap 3cm","x":23.71,"y":182.0},{"s":"Airgap 3cm","x":24.05,"y":182.0},{"s":"Airgap 3cm","x":24.39,"y":181.8},{"s":"Airgap 3cm","x":24.73,"y":181.6},{"s":"Airgap 3cm","x":25.06,"y":181.4},{"s":"Airgap 3cm","x":25.4,"y":181.15},{"s":"Airgap 3cm","x":25.74,"y":180.8},{"s":"Airgap 3cm","x":26.08,"y":180.4},{"s":"Airgap 3cm","x":26.42,"y":180.1},{"s":"Airgap 3cm","x":26.76,"y":179.7},
{"s":"Airgap 3cm","x":27.1,"y":179.25},{"s":"Airgap 3cm","x":27.43,"y":178.7},{"s":"Airgap 3cm","x":27.77,"y":178.3},{"s":"Airgap 3cm","x":28.11,"y":177.7},{"s":"Airgap 3cm","x":28.45,"y":177.25},{"s":"Airgap 3cm","x":28.79,"y":177.25},{"s":"Airgap 3cm","x":29.13,"y":177.25},{"s":"Airgap 3cm","x":29.47,"y":176.95},{"s":"Airgap 3cm","x":29.81,"y":176.8},{"s":"Airgap 3cm","x":30.14,"y":176.4},
{"s":"Airgap 3cm","x":30.48,"y":176.05},{"s":"Airgap 3cm","x":30.82,"y":175.5},{"s":"Airgap 3cm","x":31.16,"y":174.9},{"s":"Airgap 3cm","x":31.5,"y":174.3},{"s":"Airgap 3cm","x":31.84,"y":173.7},{"s":"Airgap 3cm","x":32.18,"y":173.3},{"s":"Airgap 3cm","x":32.52,"y":173.05},{"s":"Airgap 3cm","x":32.85,"y":172.8},{"s":"Airgap 3cm","x":33.19,"y":172.8},{"s":"Airgap 3cm","x":33.53,"y":172.8},
{"s":"Airgap 3cm","x":33.87,"y":172.8},{"s":"Airgap 3cm","x":34.21,"y":172.4},{"s":"Airgap 3cm","x":34.55,"y":172.15},{"s":"Airgap 3cm","x":34.89,"y":171.7},{"s":"Airgap 3cm","x":35.22,"y":171.2},{"s":"Airgap 3cm","x":35.56,"y":170.9},{"s":"Airgap 3cm","x":35.9,"y":170.5},{"s":"Airgap 3cm","x":36.24,"y":170.0},{"s":"Airgap 3cm","x":36.58,"y":169.7},{"s":"Airgap 3cm","x":36.92,"y":169.3},
{"s":"Airgap 3cm","x":37.26,"y":168.8},{"s":"Airgap 3cm","x":37.6,"y":168.6},{"s":"Airgap 3cm","x":37.93,"y":168.4},{"s":"Airgap 3cm","x":38.27,"y":168.4},{"s":"Airgap 3cm","x":38.61,"y":168.6},{"s":"Airgap 3cm","x":38.95,"y":168.6},{"s":"Airgap 3cm","x":39.29,"y":168.5},{"s":"Airgap 3cm","x":39.63,"y":168.4},{"s":"Airgap 3cm","x":39.97,"y":168.1},{"s":"Airgap 3cm","x":40.31,"y":167.6},
{"s":"Airgap 3cm","x":40.64,"y":166.9},{"s":"Airgap 3cm","x":40.98,"y":166.5},{"s":"Airgap 3cm","x":41.32,"y":166.05},{"s":"Airgap 3cm","x":41.66,"y":165.65},{"s":"Airgap 3cm","x":42,"y":165.5},{"s":"Airgap 3cm","x":42.34,"y":165.3},{"s":"Airgap 3cm","x":42.68,"y":164.85},{"s":"Airgap 3cm","x":43.01,"y":164.85},{"s":"Airgap 3cm","x":43.35,"y":164.5},{"s":"Airgap 3cm","x":43.69,"y":164.3},
{"s":"Airgap 3cm","x":44.03,"y":164.1},{"s":"Airgap 3cm","x":44.37,"y":163.7},{"s":"Airgap 3cm","x":44.71,"y":163.1},{"s":"Airgap 3cm","x":45.05,"y":162.5},{"s":"Airgap 3cm","x":45.39,"y":161.75},{"s":"Airgap 3cm","x":45.72,"y":161.5},{"s":"Airgap 3cm","x":46.06,"y":161.3},{"s":"Airgap 3cm","x":46.4,"y":161.3},{"s":"Airgap 3cm","x":46.74,"y":161.6},{"s":"Airgap 3cm","x":47.08,"y":161.6},
{"s":"Airgap 3cm","x":47.42,"y":161.6},{"s":"Airgap 3cm","x":47.76,"y":161.6},{"s":"Airgap 3cm","x":48.1,"y":161.6},{"s":"Airgap 3cm","x":48.43,"y":161.5},{"s":"Airgap 3cm","x":48.77,"y":161.1},{"s":"Airgap 3cm","x":49.11,"y":160.4},{"s":"Airgap 3cm","x":49.45,"y":159.5},{"s":"Airgap 3cm","x":49.79,"y":158.9}
]},
"mark":{"type":"point","shape":"square","filled":true,"size":81,"strokeWidth":3,"opacity":1},
"encoding":{
"x":{"field":"x","type":"quantitative","scale":{"domain":[0,50],"nice":false,"zero":false},
"axis":{"title":"Profundidad (mm)","values":[0,5,10,15,20,25,30,35,40,45,50],"grid":false,"domainColor":"#868686","domainWidth":3,"tickColor":"#868686","tickWidth":3,"tickSize":13,"labelFont":"DejaVu Sans","labelFontSize":31,"labelColor":"#000000","labelPadding":40,"labelFlush":false,"labelOverlap":false,"titleFont":"DejaVu Sans","titleFontWeight":"bold","titleFontSize":47,"titleColor":"#000000","titleBaseline":"alphabetic","titleY":168}},
"y":{"field":"y","type":"quantitative","scale":{"domain":[60,220],"nice":false,"zero":false},
"axis":{"title":"Dosis (cGy)","values":[60,80,100,120,140,160,180,200,220],"grid":false,"domainColor":"#868686","domainWidth":3,"tickColor":"#868686","tickWidth":3,"tickSize":14,"labelFont":"DejaVu Sans","labelFontSize":31,"labelColor":"#000000","labelPadding":23,"labelFlush":false,"labelOverlap":false,"titleFont":"DejaVu Sans","titleFontWeight":"bold","titleFontSize":47,"titleColor":"#000000","titleAngle":-90,"titleAlign":"center","titleBaseline":"alphabetic","titleX":-150,"titleY":636}},
"fill":{"field":"s","type":"nominal","scale":{"domain":["Sin bolus","Airgap 0cm","Airgap 1cm","Airgap 2cm","Airgap 3cm"],"range":["#4A7EBB","#C00000","#FFC000","#B3A2C7","#92D050"]},
"legend":{"title":null,"orient":"none","legendX":456,"legendY":502,"padding":0,"labelFont":"DejaVu Sans","labelFontSize":49,"labelColor":"#000000","labelLimit":0,"symbolType":"square","symbolSize":100,"symbolStrokeWidth":3,"rowPadding":81,"labelOffset":10}},
"stroke":{"field":"s","type":"nominal","scale":{"domain":["Sin bolus","Airgap 0cm","Airgap 1cm","Airgap 2cm","Airgap 3cm"],"range":["#4A7EBB","#BE4B48","#9BBB59","#7D60A0","#4BACC6"]},
"legend":{"title":null,"orient":"none","legendX":456,"legendY":502,"padding":0,"labelFont":"DejaVu Sans","labelFontSize":49,"labelColor":"#000000","labelLimit":0,"symbolType":"square","symbolSize":100,"symbolStrokeWidth":3,"rowPadding":81,"labelOffset":10}}
}
}
